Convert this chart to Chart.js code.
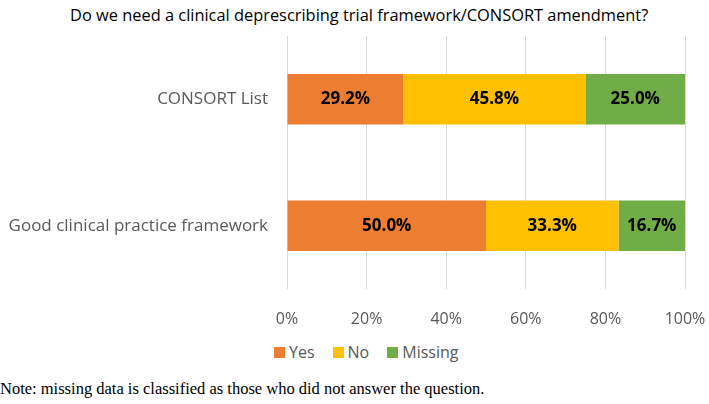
<!DOCTYPE html>
<html lang="en">
<head>
  <meta charset="UTF-8">
  <title>Deprescribing trial framework</title>
  <script src="https://cdn.jsdelivr.net/npm/chart.js@4.4.1/dist/chart.umd.min.js"></script>
  <style>
    body { margin: 0; background: #fff; }
    #wrap { position: relative; width: 709px; height: 404px; font-family: "Open Sans", "Liberation Sans", sans-serif; }
    #chart { position: absolute; left: 0; top: 0; }
    #title {
      position: absolute; left: 70px; top: 4px;
      font-size: 16.4px; line-height: 22px; color: #000; white-space: nowrap;
    }
    #legend {
      position: absolute; left: 274px; top: 341px;
      display: flex; align-items: center;
      font-size: 16px; line-height: 22px; color: #595959;
    }
    #legend span.box { display: inline-block; width: 11px; height: 11px; margin-right: 4px; }
    #legend span.item { display: flex; align-items: center; margin-right: 18px; }
    #note {
      position: absolute; left: 0; top: 379px;
      font-family: "Liberation Serif", "DejaVu Serif", serif;
      font-size: 16.5px; color: #000; white-space: nowrap;
    }
  </style>
</head>
<body>
  <div id="wrap">
    <div id="title">Do we need a clinical deprescribing trial framework/CONSORT amendment?</div>
    <canvas id="chart" width="709" height="335"></canvas>
    <div id="legend"></div>
    <div id="note">Note: missing data is classified as those who did not answer the question.</div>
  </div>
  <script>
    const categories = ['CONSORT List', 'Good clinical practice framework'];
    const yesValues = [29.2, 50.0];
    const noValues = [45.8, 33.3];
    const missingValues = [25.0, 16.7];
    const tickLabels = ['0%', '20%', '40%', '60%', '80%', '100%'];

    const font = '"Open Sans", "Liberation Sans", sans-serif';

    // bold percentage in the middle of each segment
    const barLabels = {
      id: 'barLabels',
      afterDatasetsDraw(chart) {
        const ctx = chart.ctx;
        ctx.save();
        ctx.font = 'bold 17px ' + font;
        ctx.fillStyle = '#000';
        ctx.textAlign = 'center';
        ctx.textBaseline = 'middle';
        chart.data.datasets.forEach((ds, i) => {
          chart.getDatasetMeta(i).data.forEach((bar, j) => {
            const x = (bar.x + bar.base) / 2;
            ctx.fillText(ds.data[j].toFixed(1) + '%', x, bar.y);
          });
        });
        ctx.restore();
      }
    };

    const chart = new Chart(document.getElementById('chart'), {
      type: 'bar',
      data: {
        labels: categories,
        datasets: [
          { label: 'Yes', data: yesValues, backgroundColor: '#ED7D31' },
          { label: 'No', data: noValues, backgroundColor: '#FFC000' },
          { label: 'Missing', data: missingValues, backgroundColor: '#70AD47' }
        ]
      },
      options: {
        indexAxis: 'y',
        responsive: false,
        animation: false,
        barPercentage: 0.8,
        categoryPercentage: 0.5,
        layout: { padding: { left: 0, right: 0, top: 36, bottom: 0 } },
        scales: {
          x: {
            stacked: true,
            min: 0,
            max: 100,
            grid: { color: '#d9d9d9', drawTicks: false },
            border: { display: false },
            afterFit: (scale) => {
              scale.height = 46;
              scale.paddingRight = 24; // room for half of "100%"
            },
            ticks: {
              stepSize: 20,
              padding: 21,
              color: '#595959',
              font: { family: font, size: 16 },
              callback: (v, i) => tickLabels[i]
            }
          },
          y: {
            stacked: true,
            grid: { display: false, drawTicks: false },
            border: { display: false },
            afterFit: (scale) => { scale.width = 287; },
            ticks: {
              padding: 19,
              color: '#595959',
              font: { family: font, size: 17 }
            }
          }
        },
        plugins: {
          legend: { display: false },
          tooltip: { enabled: false }
        }
      },
      plugins: [barLabels]
    });

    // legend built from the chart's datasets
    const legend = document.getElementById('legend');
    chart.data.datasets.forEach((ds) => {
      const item = document.createElement('span');
      item.className = 'item';
      item.innerHTML = '<span class="box" style="background:' + ds.backgroundColor + '"></span>' + ds.label;
      legend.appendChild(item);
    });
  </script>
</body>
</html>
